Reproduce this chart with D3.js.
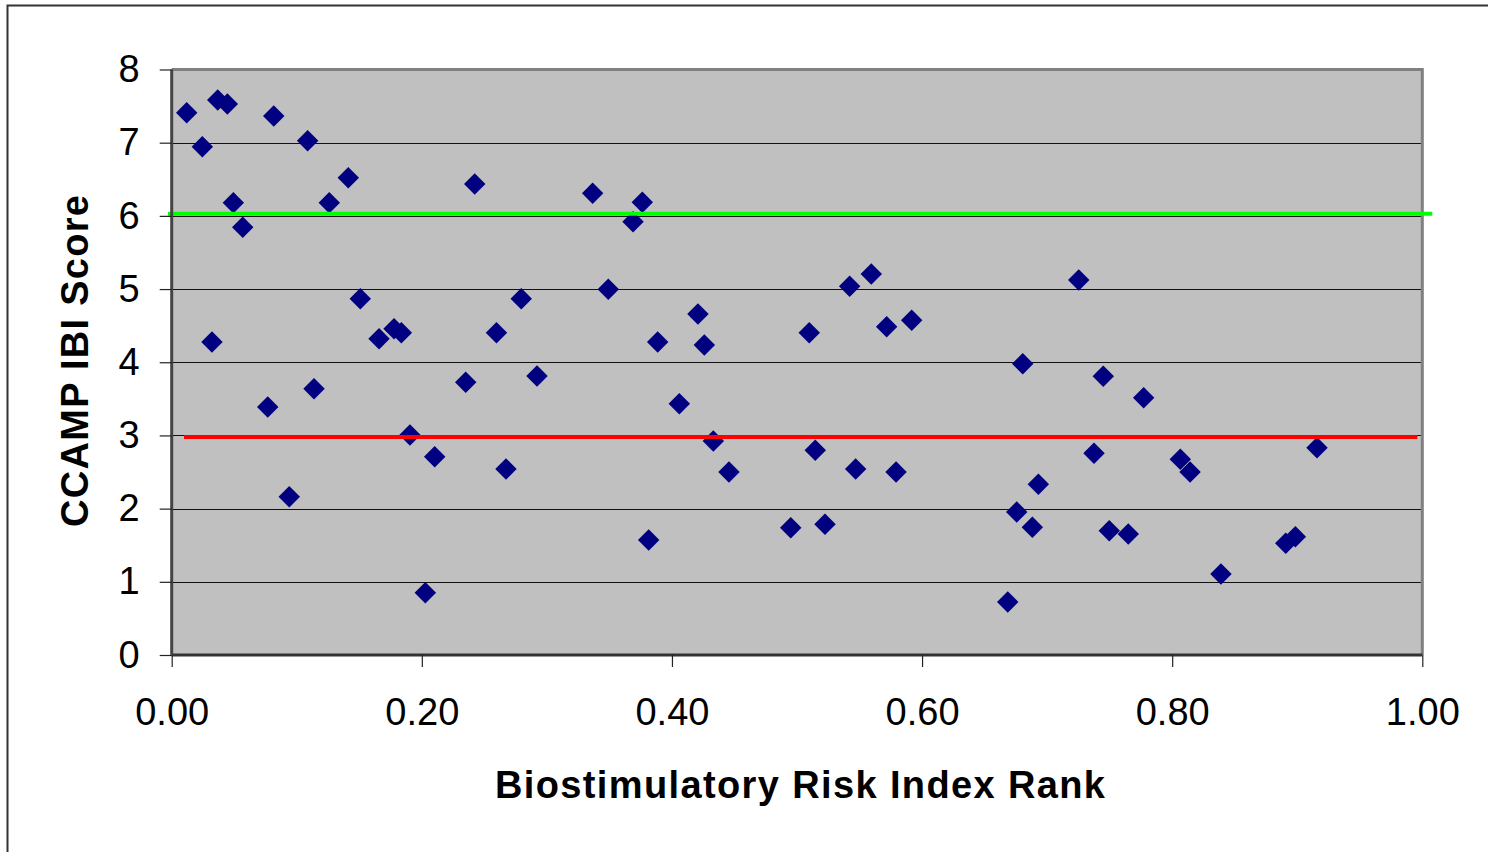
<!DOCTYPE html>
<html>
<head>
<meta charset="utf-8">
<script src="https://cdn.jsdelivr.net/npm/d3@7"></script>
<style>
  html, body { margin: 0; padding: 0; background: #ffffff; }
  svg { display: block; }
  text { font-family: "Liberation Sans", Arial, sans-serif; }
</style>
</head>
<body>
<svg id="chart" width="1488" height="852"></svg>
<script>
// ---- data ----
const riskRank = [0.012,0.0245,0.0322,0.0368,0.0445,0.0493,0.0568,0.0768,0.0816,0.094,
  0.1087,0.1138,0.126,0.1412,0.1508,0.1658,0.1778,0.1836,0.1905,0.2028,
  0.2103,0.2351,0.2423,0.2597,0.2673,0.2795,0.2921,0.3366,0.3491,0.3689,
  0.3763,0.3814,0.3886,0.4059,0.4208,0.4259,0.4331,0.4456,0.495,0.5098,
  0.5146,0.5224,0.5421,0.5469,0.5594,0.5717,0.5792,0.5917,0.6685,0.6757,
  0.6805,0.6882,0.693,0.7253,0.7375,0.7449,0.7497,0.7649,0.7772,0.8065,
  0.8143,0.839,0.8908,0.8985,0.9158];
const ibiScore = [7.41,6.945,4.277,7.583,7.528,6.18,5.844,3.388,7.364,2.163,
  7.027,3.638,6.18,6.521,4.868,4.322,4.458,4.404,3.006,0.851,
  2.709,3.726,6.435,4.404,2.541,4.868,3.812,6.308,4.997,5.92,
  6.185,1.571,4.277,3.434,4.659,4.236,2.924,2.5,1.739,4.404,
  2.797,1.786,5.038,2.541,5.206,4.486,2.5,4.573,0.724,1.954,
  3.98,1.745,2.332,5.124,2.756,3.808,1.698,1.653,3.516,2.674,
  2.5,1.107,1.526,1.616,2.832];
const upperThreshold = [[-0.003, 6.03], [1.008, 6.03]];
const lowerThreshold = [[0.0098, 2.98], [0.996, 2.98]];
const xTicks = [0, 0.2, 0.4, 0.6, 0.8, 1.0];
const yTicks = [0, 1, 2, 3, 4, 5, 6, 7, 8];
const xTitle = "Biostimulatory Risk Index Rank";
const yTitle = "CCAMP IBI Score";

// ---- layout ----
const svg = d3.select("#chart");
const pL = 171.7, pR = 1422.3, pT = 69.5, pB = 655;
const x = d3.scaleLinear().domain([0, 1]).range([pL, pR]);
const y = d3.scaleLinear().domain([0, 8]).range([pB, pT]);

// outer chart frame
svg.append("rect").attr("x", 7.5).attr("y", 5.5).attr("width", 1500).attr("height", 900)
  .attr("fill", "#ffffff").attr("stroke", "#333333").attr("stroke-width", 2);

// plot area
svg.append("rect").attr("x", pL).attr("y", pT).attr("width", pR - pL).attr("height", pB - pT)
  .attr("fill", "#c0c0c0");

// gridlines
svg.append("g").selectAll("line").data(yTicks.filter(d => d > 0 && d < 8)).join("line")
  .attr("x1", pL).attr("x2", pR)
  .attr("y1", d => Math.round(y(d)) + 0.5).attr("y2", d => Math.round(y(d)) + 0.5)
  .attr("stroke", "#111111").attr("stroke-width", 1.2);

// plot border (top & right gray)
svg.append("path")
  .attr("d", `M${pL},${pT} L${pR},${pT} L${pR},${pB}`)
  .attr("fill", "none").attr("stroke", "#808080").attr("stroke-width", 3);

// markers
const pts = riskRank.map((v, i) => [v, ibiScore[i]]);
const diamond = d3.symbol().type(d3.symbolSquare).size(230);
svg.append("g").selectAll("path").data(pts).join("path")
  .attr("d", diamond)
  .attr("transform", d => `translate(${x(d[0])},${y(d[1])}) rotate(45)`)
  .attr("fill", "#000080");

// threshold lines
const line = d3.line().x(d => x(d[0])).y(d => y(d[1]));
svg.append("path").datum(upperThreshold).attr("d", line)
  .attr("stroke", "#00ff00").attr("stroke-width", 4).attr("fill", "none");
svg.append("path").datum(lowerThreshold).attr("d", line)
  .attr("stroke", "#ff0000").attr("stroke-width", 4).attr("fill", "none");

// axes
const xAxis = d3.axisBottom(x).tickValues(xTicks).tickFormat(d3.format(".2f")).tickSize(12).tickPadding(31);
const gx = svg.append("g").attr("transform", `translate(0,${pB})`).call(xAxis);
gx.select(".domain").attr("stroke", "#333333").attr("stroke-width", 3).attr("d", `M${pL},0H${pR}`);
gx.selectAll(".tick line").attr("stroke", "#222222").attr("stroke-width", 1.2);
gx.selectAll(".tick text").attr("font-size", 38).attr("fill", "#000").attr("font-family", "Liberation Sans, Arial, sans-serif");

const yAxis = d3.axisLeft(y).tickValues(yTicks).tickFormat(d3.format("d")).tickSize(12).tickPadding(20);
const gy = svg.append("g").attr("transform", `translate(${pL},0)`).call(yAxis);
gy.select(".domain").attr("stroke", "#444444").attr("stroke-width", 3).attr("d", `M0,${pT}V${pB}`);
gy.selectAll(".tick line").attr("stroke", "#222222").attr("stroke-width", 1.2);
gy.selectAll(".tick text").attr("font-size", 38).attr("fill", "#000").attr("font-family", "Liberation Sans, Arial, sans-serif");

// titles
svg.append("text").attr("x", 800).attr("y", 798).attr("text-anchor", "middle")
  .attr("font-size", 38).attr("font-weight", "bold")
  .attr("textLength", 610).attr("lengthAdjust", "spacing").text(xTitle);
svg.append("text").attr("transform", "translate(88,361) rotate(-90)").attr("text-anchor", "middle")
  .attr("font-size", 38).attr("font-weight", "bold")
  .attr("textLength", 332).attr("lengthAdjust", "spacing").text(yTitle);
</script>
</body>
</html>
